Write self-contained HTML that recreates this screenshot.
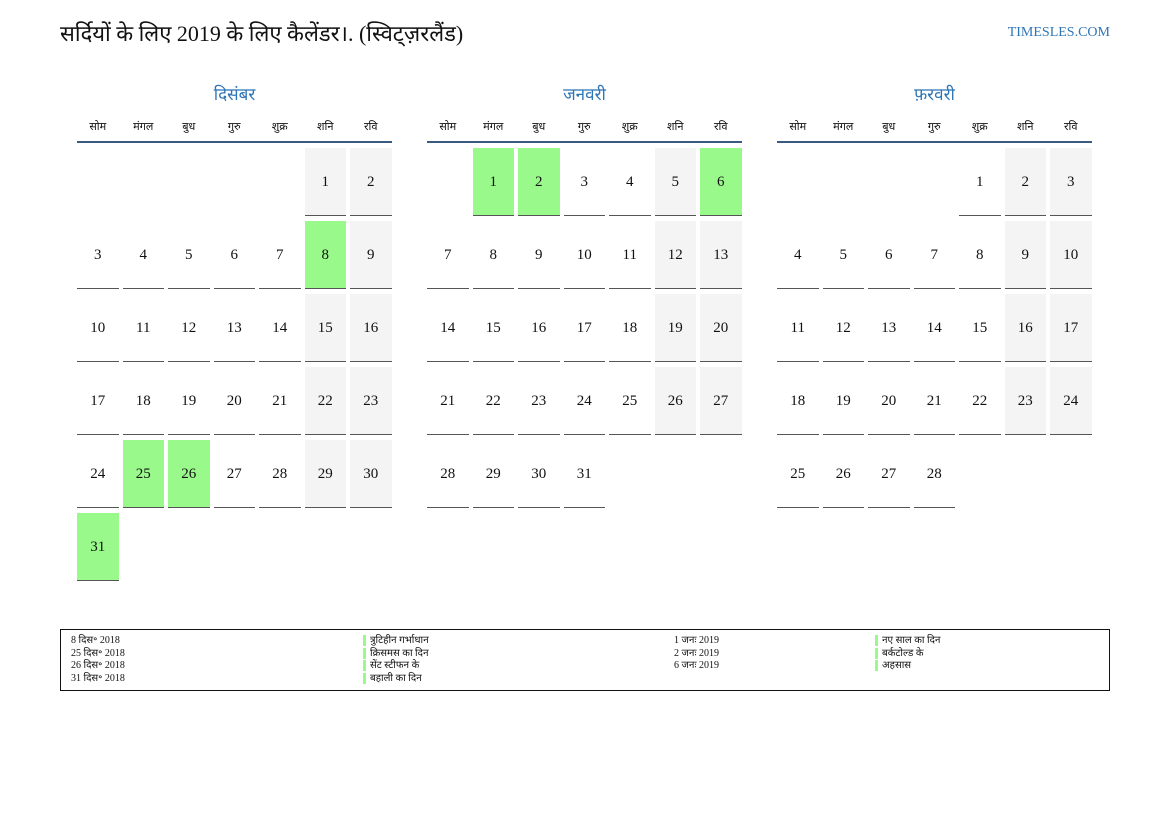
<!DOCTYPE html>
<html><head><meta charset="utf-8"><style>
body{margin:0;width:1169px;height:827px;background:#fff;position:relative;font-family:"Liberation Serif","Noto Serif CJK SC",serif;color:#111;overflow:hidden}
.t{position:absolute;left:60px;top:18px;font-size:22px;}
.s{position:absolute;right:59px;top:25px;font-size:14px;color:#2e75b6}
.m{position:absolute;top:81px;width:315px}
.mt{text-align:center;font-size:17px;color:#2e75b6;height:28px;line-height:28px}
.dn{display:grid;grid-template-columns:repeat(7,41.5px);column-gap:4px;font-size:11px;text-align:center;height:32px;line-height:36px;border-bottom:2px solid #3a5a80}
.g{display:grid;grid-template-columns:repeat(7,41.5px);column-gap:4px;row-gap:5px;grid-auto-rows:68px;margin-top:5px}
.g div{border-bottom:1.5px solid #555;display:flex;align-items:center;justify-content:center;font-size:15px;box-sizing:border-box;padding-top:2px}
.g div.e{border:none}
.g div.w{background:#f4f4f4}
.g div.h{background:#99f98a}
.lg{position:absolute;left:60px;top:629px;width:1048px;height:60px;border:1.5px solid #111;font-size:10px;line-height:12.6px}
.lg div{position:absolute;top:5px}
.b{border-left:3px solid #99f98a;padding-left:4px}
</style></head><body>
<div class="t">सर्दियों के लिए 2019 के लिए कैलेंडर।. (स्विट्ज़रलैंड)</div>
<div class="s">TIMESLES.COM</div>

<div class="m" style="left:77px">
<div class="mt">दिसंबर</div>
<div class="dn"><span>सोम</span><span>मंगल</span><span>बुध</span><span>गुरु</span><span>शुक्र</span><span>शनि</span><span>रवि</span></div>
<div class="g">
<div class="e"></div><div class="e"></div><div class="e"></div><div class="e"></div><div class="e"></div><div class="w">1</div><div class="w">2</div>
<div>3</div><div>4</div><div>5</div><div>6</div><div>7</div><div class="h">8</div><div class="w">9</div>
<div>10</div><div>11</div><div>12</div><div>13</div><div>14</div><div class="w">15</div><div class="w">16</div>
<div>17</div><div>18</div><div>19</div><div>20</div><div>21</div><div class="w">22</div><div class="w">23</div>
<div>24</div><div class="h">25</div><div class="h">26</div><div>27</div><div>28</div><div class="w">29</div><div class="w">30</div>
<div class="h">31</div>
</div></div>

<div class="m" style="left:427px">
<div class="mt">जनवरी</div>
<div class="dn"><span>सोम</span><span>मंगल</span><span>बुध</span><span>गुरु</span><span>शुक्र</span><span>शनि</span><span>रवि</span></div>
<div class="g">
<div class="e"></div><div class="h">1</div><div class="h">2</div><div>3</div><div>4</div><div class="w">5</div><div class="h">6</div>
<div>7</div><div>8</div><div>9</div><div>10</div><div>11</div><div class="w">12</div><div class="w">13</div>
<div>14</div><div>15</div><div>16</div><div>17</div><div>18</div><div class="w">19</div><div class="w">20</div>
<div>21</div><div>22</div><div>23</div><div>24</div><div>25</div><div class="w">26</div><div class="w">27</div>
<div>28</div><div>29</div><div>30</div><div>31</div>
</div></div>

<div class="m" style="left:777px">
<div class="mt">फ़रवरी</div>
<div class="dn"><span>सोम</span><span>मंगल</span><span>बुध</span><span>गुरु</span><span>शुक्र</span><span>शनि</span><span>रवि</span></div>
<div class="g">
<div class="e"></div><div class="e"></div><div class="e"></div><div class="e"></div><div>1</div><div class="w">2</div><div class="w">3</div>
<div>4</div><div>5</div><div>6</div><div>7</div><div>8</div><div class="w">9</div><div class="w">10</div>
<div>11</div><div>12</div><div>13</div><div>14</div><div>15</div><div class="w">16</div><div class="w">17</div>
<div>18</div><div>19</div><div>20</div><div>21</div><div>22</div><div class="w">23</div><div class="w">24</div>
<div>25</div><div>26</div><div>27</div><div>28</div>
</div></div>

<div class="lg">
<div style="left:10px">8 दिस॰ 2018<br>25 दिस॰ 2018<br>26 दिस॰ 2018<br>31 दिस॰ 2018</div>
<div style="left:302px"><span class="b">त्रुटिहीन गर्भाधान</span><br><span class="b">क्रिसमस का दिन</span><br><span class="b">सेंट स्टीफन के</span><br><span class="b">बहाली का दिन</span></div>
<div style="left:613px">1 जनः 2019<br>2 जनः 2019<br>6 जनः 2019</div>
<div style="left:814px"><span class="b">नए साल का दिन</span><br><span class="b">बर्कटोल्ड के</span><br><span class="b">अहसास</span></div>
</div>
</body></html>
